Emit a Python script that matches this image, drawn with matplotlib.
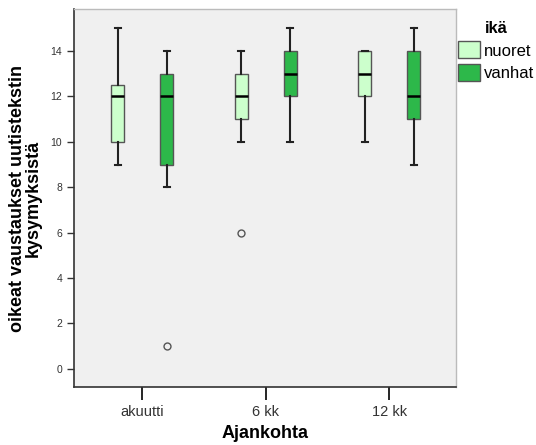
import numpy as np
import matplotlib.pyplot as plt
from matplotlib.patches import Patch

plt.rcParams["font.family"] = ["Liberation Sans", "DejaVu Sans"]

# data
categories = ["akuutti", "6 kk", "12 kk"]
groups = ["nuoret", "vanhat"]
colors = ["#CCFFCC", "#2DB84A"]

whislo = {"nuoret": [9, 10, 10], "vanhat": [8, 10, 9]}
q1 = {"nuoret": [10, 11, 12], "vanhat": [9, 12, 11]}
med = {"nuoret": [12, 12, 13], "vanhat": [12, 13, 12]}
q3 = {"nuoret": [12.5, 13, 14], "vanhat": [13, 14, 14]}
whishi = {"nuoret": [15, 14, 14], "vanhat": [14, 15, 15]}
fliers = {"nuoret": [[], [6], []], "vanhat": [[1], [], []]}

fig = plt.figure(figsize=(5.36, 4.45), dpi=100)
ax = fig.add_axes([74 / 536, 1 - 387 / 445, 382 / 536, 378 / 445])
ax.set_facecolor("#F0F0F0")

x = np.arange(len(categories))
offset = 0.198
width = 0.103
for gi, g in enumerate(groups):
    stats = []
    for i in range(len(categories)):
        stats.append({
            "whislo": whislo[g][i], "q1": q1[g][i], "med": med[g][i],
            "q3": q3[g][i], "whishi": whishi[g][i], "fliers": fliers[g][i],
        })
    pos = x + (offset if gi else -offset)
    ax.bxp(stats, positions=pos, widths=width, capwidths=width * 0.45,
           patch_artist=True, manage_ticks=False,
           boxprops=dict(facecolor=colors[gi], edgecolor="#555555", linewidth=1.0),
           medianprops=dict(color="black", linewidth=1.8),
           whiskerprops=dict(color="#222222", linewidth=1.5),
           capprops=dict(color="#222222", linewidth=1.5),
           flierprops=dict(marker="o", markerfacecolor="none",
                           markeredgecolor="#555555", markersize=5, markeredgewidth=1.0))

ax.set_xlim(-0.553, 2.54)
ax.set_ylim(-0.8, 15.85)
ax.set_xticks(x)
ax.set_xticklabels(categories, fontsize=10.5, color="#333333")
ax.set_yticks([0, 2, 4, 6, 8, 10, 12, 14])
ax.tick_params(axis="y", labelsize=7.5, colors="#333333", length=5, width=1)
ax.tick_params(axis="x", length=9, width=1.2, pad=4)
for s in ["left", "bottom"]:
    ax.spines[s].set_color("#333333")
    ax.spines[s].set_linewidth(1.2)
for s in ["top", "right"]:
    ax.spines[s].set_color("#BBBBBB")
    ax.spines[s].set_linewidth(1.0)

ax.set_xlabel("Ajankohta", fontsize=13, fontweight="bold", labelpad=4)
ax.set_ylabel("oikeat vaustaukset uutistekstin\nkysymyksistä", fontsize=13,
              fontweight="bold", labelpad=6, linespacing=0.9)

handles = [Patch(facecolor=c, edgecolor="#555555", label=g) for g, c in zip(groups, colors)]
leg = fig.legend(handles=handles, title="ikä", loc="upper left",
                 bbox_to_anchor=(455 / 536, 1 - 18 / 445), frameon=False,
                 fontsize=12, title_fontsize=12, handlelength=1.3, handleheight=1.2,
                 handletextpad=0.25, labelspacing=0.3, borderaxespad=0, borderpad=0.2)
leg.get_title().set_fontweight("bold")

fig.savefig("out.png", dpi=100)
